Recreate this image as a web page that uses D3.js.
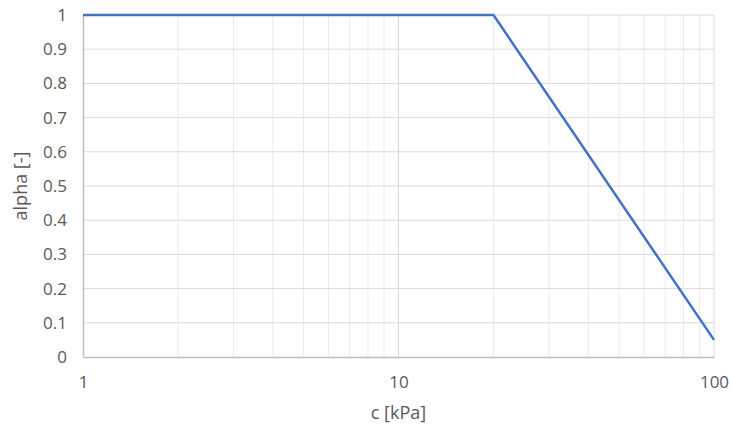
<!DOCTYPE html>
<html>
<head>
<meta charset="utf-8">
<script src="https://cdn.jsdelivr.net/npm/d3@7"></script>
<style>
  body { margin: 0; background: #fff; }
  text { font-family: "Open Sans", "Liberation Sans", sans-serif; fill: #595959; }
</style>
</head>
<body>
<svg id="chart"></svg>
<script>
// data
const cValues = [1, 20, 100];
const alphaValues = [1, 1, 0.05];
const xTicks = [1, 10, 100];
const yTicks = [0, 0.1, 0.2, 0.3, 0.4, 0.5, 0.6, 0.7, 0.8, 0.9, 1];

const W = 730, H = 425;
const margin = { top: 15, right: 16, bottom: 68, left: 83 },
  width = W - margin.left - margin.right,
  height = H - margin.top - margin.bottom;

const svg = d3.select('#chart').attr('width', W).attr('height', H);
const g = svg.append('g').attr('transform', 'translate(' + margin.left + ',' + margin.top + ')');

const x = d3.scaleLog().domain([1, 100]).range([0, width]);
const y = d3.scaleLinear().domain([0, 1]).range([height, 0]);

// minor vertical gridlines
const minor = [];
for (let d = 1; d < 100; d *= 10) {
  for (let k = 2; k <= 9; k++) minor.push(d * k);
}
g.append('g').selectAll('line').data(minor).join('line')
  .attr('x1', d => x(d)).attr('x2', d => x(d))
  .attr('y1', 0).attr('y2', height)
  .attr('stroke', '#ebebeb').attr('stroke-width', 1);

// major vertical gridlines
g.append('g').selectAll('line').data(xTicks.slice(1)).join('line')
  .attr('x1', d => x(d)).attr('x2', d => x(d))
  .attr('y1', 0).attr('y2', height)
  .attr('stroke', '#d9d9d9').attr('stroke-width', 1);

// horizontal gridlines
g.append('g').selectAll('line').data(yTicks.slice(1)).join('line')
  .attr('x1', 0).attr('x2', width)
  .attr('y1', d => y(d)).attr('y2', d => y(d))
  .attr('stroke', '#d9d9d9').attr('stroke-width', 1);

// axes
const xAxis = d3.axisBottom(x).tickValues(xTicks).tickFormat(d3.format('d')).tickSize(0).tickPadding(19);
const yAxis = d3.axisLeft(y).tickValues(yTicks).tickFormat(d => d === 0 || d === 1 ? String(d) : d3.format('.1f')(d)).tickSize(0).tickPadding(16);

const gx = g.append('g').attr('transform', 'translate(0,' + height + ')').call(xAxis);
const gy = g.append('g').call(yAxis);
[gx, gy].forEach(a => {
  a.select('.domain').attr('stroke', '#bfbfbf').attr('stroke-width', 1.5);
  a.selectAll('text').style('font-size', '17px').attr('fill', '#595959');
});

// series
const line = d3.line().x((d, i) => x(cValues[i])).y((d, i) => y(alphaValues[i]));
g.append('path').datum(cValues)
  .attr('d', line)
  .attr('fill', 'none')
  .attr('stroke', '#4472c4')
  .attr('stroke-width', 2.5);

// axis titles
svg.append('text')
  .attr('x', margin.left + width / 2).attr('y', 419)
  .attr('text-anchor', 'middle')
  .style('font-size', '18px')
  .text('c [kPa]');

svg.append('text')
  .attr('transform', 'translate(27,' + (margin.top + height / 2) + ') rotate(-90)')
  .attr('text-anchor', 'middle')
  .style('font-size', '18px')
  .text('alpha [-]');
</script>
</body>
</html>
